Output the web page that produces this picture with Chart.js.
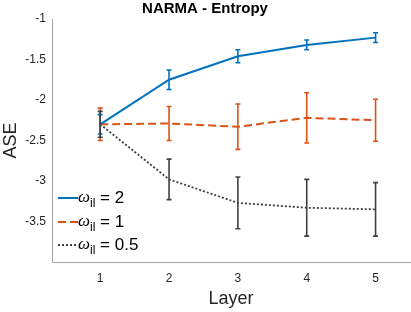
<!DOCTYPE html>
<html>
<head>
<meta charset="utf-8">
<script src="https://cdn.jsdelivr.net/npm/chart.js@4/dist/chart.umd.min.js"></script>
<style>
  html, body { margin: 0; padding: 0; background: #fff; }
  #wrap { width: 411px; height: 312px; }
</style>
</head>
<body>
<div id="wrap"><canvas id="c" width="411" height="312"></canvas></div>
<script>
'use strict';

var layers = [1, 2, 3, 4, 5];
var yTicks = [-3.5, -3, -2.5, -2, -1.5, -1];

var w2Mean = [-2.30, -1.75, -1.46, -1.32, -1.23];
var w2Err  = [0.12, 0.12, 0.08, 0.06, 0.06];
var w1Mean = [-2.30, -2.29, -2.33, -2.22, -2.25];
var w1Err  = [0.20, 0.21, 0.28, 0.31, 0.26];
var w05Mean = [-2.30, -2.98, -3.27, -3.33, -3.35];
var w05Err  = [0.16, 0.25, 0.32, 0.35, 0.33];

var seriesLabels = ['2', '1', '0.5'];
var seriesColors = ['#0072BD', '#D95319', '#404040'];
var seriesDash = [[], [8, 4], [2, 2]];

function pts(means) {
  return layers.map(function(x, i) { return { x: x, y: means[i] }; });
}

var errs = [w2Err, w1Err, w05Err];

var errorBarPlugin = {
  id: 'errorBars',
  afterDatasetsDraw: function(chart) {
    var ctx = chart.ctx;
    var xs = chart.scales.x, ys = chart.scales.y;
    chart.data.datasets.forEach(function(ds, di) {
      ctx.save();
      ctx.strokeStyle = ds.borderColor;
      ctx.lineWidth = 1.6;
      ctx.setLineDash([]);
      ds.data.forEach(function(p, i) {
        var e = errs[di][i];
        var px = xs.getPixelForValue(p.x);
        var top = ys.getPixelForValue(p.y + e);
        var bot = ys.getPixelForValue(p.y - e);
        ctx.beginPath();
        ctx.moveTo(px, top); ctx.lineTo(px, bot);
        ctx.moveTo(px - 2.5, top); ctx.lineTo(px + 2.5, top);
        ctx.moveTo(px - 2.5, bot); ctx.lineTo(px + 2.5, bot);
        ctx.stroke();
      });
      ctx.restore();
    });
  }
};

var legendPlugin = {
  id: 'matlabLegend',
  afterDraw: function(chart) {
    var ctx = chart.ctx;
    var rowsY = [198, 222, 245];
    ctx.save();
    seriesLabels.forEach(function(lab, i) {
      var y = rowsY[i];
      ctx.strokeStyle = seriesColors[i];
      ctx.lineWidth = 2;
      ctx.setLineDash(seriesDash[i]);
      ctx.beginPath();
      ctx.moveTo(58, y); ctx.lineTo(78, y);
      ctx.stroke();
      ctx.setLineDash([]);
      ctx.fillStyle = '#000';
      ctx.textBaseline = 'middle';
      ctx.textAlign = 'left';
      ctx.font = 'italic 17px "Liberation Serif", serif';
      ctx.fillText('\u03c9', 78, y);
      var wW = ctx.measureText('\u03c9').width;
      ctx.font = '12px "Liberation Sans", Arial, sans-serif';
      ctx.fillText('il', 78 + wW, y + 6);
      var sW = ctx.measureText('il').width;
      ctx.font = '17px "Liberation Sans", Arial, sans-serif';
      ctx.fillText(' = ' + lab, 78 + wW + sW, y);
    });
    ctx.restore();
  }
};

function makeDataset(means, i) {
  return {
    label: seriesLabels[i],
    data: pts(means),
    borderColor: seriesColors[i],
    backgroundColor: seriesColors[i],
    borderDash: seriesDash[i],
    borderWidth: i === 2 ? 1.8 : 2,
    pointRadius: 0,
    tension: 0,
    fill: false
  };
}

new Chart(document.getElementById('c'), {
  type: 'line',
  data: {
    datasets: [makeDataset(w2Mean, 0), makeDataset(w1Mean, 1), makeDataset(w05Mean, 2)]
  },
  plugins: [errorBarPlugin, legendPlugin],
  options: {
    responsive: false,
    animation: false,
    layout: { padding: { left: 0, right: 1, top: 0, bottom: 0 } },
    plugins: {
      legend: { display: false },
      tooltip: { enabled: false },
      title: {
        display: true,
        text: 'NARMA - Entropy',
        color: '#000',
        font: { family: '"Liberation Sans", Arial, sans-serif', size: 15, weight: 'bold' },
        padding: { top: 0, bottom: 1 }
      }
    },
    scales: {
      x: {
        type: 'linear',
        min: 0.3,
        max: 5.5,
        afterBuildTicks: function(s) { s.ticks = layers.map(function(v) { return { value: v }; }); },
        grid: { display: false, drawTicks: false },
        border: { display: true, color: '#a6a6a6', width: 1 },
        ticks: {
          color: '#262626',
          padding: 9,
          maxRotation: 0,
          font: { family: '"Liberation Sans", Arial, sans-serif', size: 12 }
        },
        title: {
          display: true,
          text: 'Layer',
          color: '#262626',
          padding: { top: 4, bottom: 2 },
          font: { family: '"Liberation Sans", Arial, sans-serif', size: 18 }
        },
        afterFit: function(s) { s.height = 50; }
      },
      y: {
        min: -4,
        max: -1,
        afterBuildTicks: function(s) { s.ticks = yTicks.map(function(v) { return { value: v }; }); },
        grid: { display: false, drawTicks: false },
        border: { display: true, color: '#a6a6a6', width: 1 },
        ticks: {
          color: '#262626',
          padding: 6,
          font: { family: '"Liberation Sans", Arial, sans-serif', size: 12 },
          callback: function(v) { return String(v); }
        },
        title: {
          display: true,
          text: 'ASE',
          color: '#262626',
          padding: { top: 0, bottom: 0 },
          font: { family: '"Liberation Sans", Arial, sans-serif', size: 18 }
        },
        afterFit: function(s) { s.width = 52; }
      }
    }
  }
});
</script>
</body>
</html>
